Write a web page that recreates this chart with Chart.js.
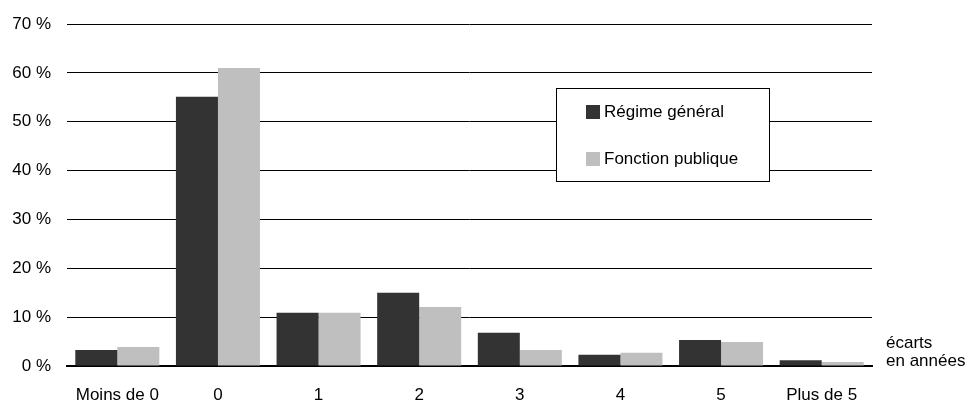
<!DOCTYPE html>
<html lang="fr">
<head>
  <meta charset="UTF-8">
  <title>Écarts en années</title>
  <script src="https://cdn.jsdelivr.net/npm/chart.js"></script>
  <style>
    html, body {
      margin: 0;
      padding: 0;
      background: #fff;
    }
    .chart-container {
      position: relative;
      width: 969px;
      height: 405px;
    }
  </style>
</head>
<body>
  <div class="chart-container">
    <canvas id="ecartsChart"></canvas>
  </div>

  <script>
    const categories = ['Moins de 0', '0', '1', '2', '3', '4', '5', 'Plus de 5'];
    const regimeGeneral = [3.3, 55.1, 10.9, 15.0, 6.8, 2.3, 5.3, 1.2];
    const fonctionPublique = [3.9, 61.0, 10.9, 12.1, 3.3, 2.7, 4.9, 0.8];
    const seriesLabels = ['Régime général', 'Fonction publique'];
    const axisNote = ['écarts', 'en années'];

    const FONT = 'Liberation Sans, Arial, sans-serif';

    // legend box drawn inside the plot, like the original
    const boxLegend = {
      id: 'boxLegend',
      afterDraw(chart) {
        const ctx = chart.ctx;
        const x = 556, y = 88, w = 213, h = 93;
        ctx.save();
        ctx.fillStyle = '#fff';
        ctx.fillRect(x, y, w, h);
        ctx.strokeStyle = '#000';
        ctx.lineWidth = 1;
        ctx.strokeRect(x + 0.5, y + 0.5, w, h);
        ctx.font = '17px ' + FONT;
        ctx.textBaseline = 'middle';
        chart.data.datasets.forEach((ds, i) => {
          const cy = 112 + i * 47;
          ctx.fillStyle = ds.backgroundColor;
          ctx.fillRect(586, cy - 7, 14, 14);
          ctx.fillStyle = '#000';
          ctx.fillText(ds.label, 604, cy);
        });

        // note at the right end of the x axis
        ctx.fillText(axisNote[0], 886, 343);
        ctx.fillText(axisNote[1], 886, 361);
        ctx.restore();
      }
    };

    new Chart(document.getElementById('ecartsChart'), {
      type: 'bar',
      data: {
        labels: categories,
        datasets: [
          {
            label: seriesLabels[0],
            data: regimeGeneral,
            backgroundColor: '#333333',
            barPercentage: 1,
            categoryPercentage: 0.835
          },
          {
            label: seriesLabels[1],
            data: fonctionPublique,
            backgroundColor: '#bfbfbf',
            barPercentage: 1,
            categoryPercentage: 0.835
          }
        ]
      },
      options: {
        responsive: true,
        maintainAspectRatio: false,
        animation: false,
        layout: {
          padding: { top: 24, right: 97, left: 0, bottom: 0 }
        },
        plugins: {
          legend: { display: false },
          tooltip: { enabled: false }
        },
        scales: {
          x: {
            grid: { display: false, drawTicks: false },
            border: { display: true, color: '#000', width: 2 },
            ticks: {
              color: '#000',
              font: { family: FONT, size: 17 },
              padding: 19,
              maxRotation: 0
            },
            afterFit(scale) {
              scale.height = 39;
            }
          },
          y: {
            min: 0,
            max: 70,
            grid: { color: '#000', lineWidth: 1, drawTicks: false },
            border: { display: false },
            ticks: {
              stepSize: 10,
              color: '#000',
              font: { family: FONT, size: 17, lineHeight: 1 },
              padding: 16,
              callback: v => v + ' %'
            },
            afterFit(scale) {
              scale.width = 67;
              scale.paddingTop = 0;
            }
          }
        }
      },
      plugins: [boxLegend]
    });
  </script>
</body>
</html>
